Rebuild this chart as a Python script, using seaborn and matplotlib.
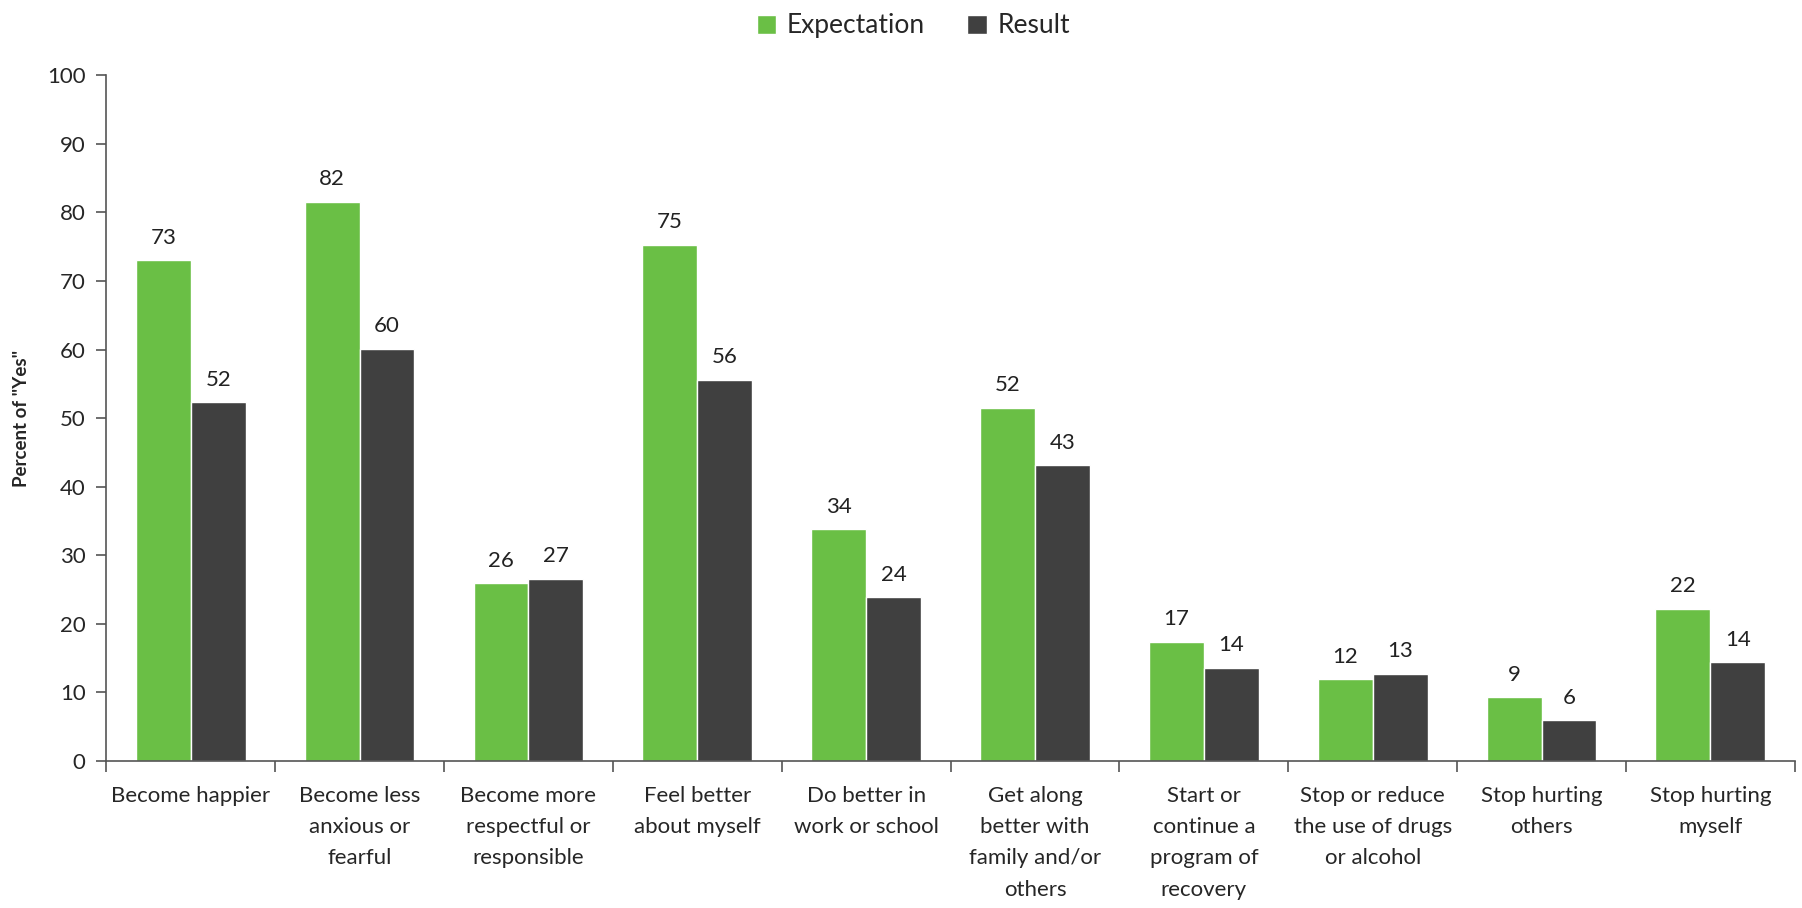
import numpy as np
import pandas as pd
import matplotlib.pyplot as plt
import seaborn as sns

# Data
categories = ["Become happier", "Become less\nanxious or\nfearful", "Become more\nrespectful or\nresponsible",
              "Feel better\nabout myself", "Do better in\nwork or school", "Get along\nbetter with\nfamily and/or\nothers",
              "Start or\ncontinue a\nprogram of\nrecovery", "Stop or reduce\nthe use of drugs\nor alcohol",
              "Stop hurting\nothers", "Stop hurting\nmyself"]
expectation = [73.0, 81.6, 25.9, 75.3, 33.8, 51.5, 17.4, 11.9, 9.3, 22.2]
result = [52.3, 60.1, 26.6, 55.6, 23.9, 43.1, 13.6, 12.7, 5.9, 14.4]

df = pd.DataFrame({
    "category": categories * 2,
    "value": expectation + result,
    "series": ["Expectation"] * len(categories) + ["Result"] * len(categories),
})

sns.set_style("white")
plt.rcParams['font.family'] = ['Lato', 'DejaVu Sans']

fig = plt.figure(figsize=(18.02, 9.08), dpi=100)
ax = fig.add_axes([0.059, 0.162, 0.937, 0.755])

palette = {"Expectation": "#6abf45", "Result": "#404040"}
sns.barplot(data=df, x="category", y="value", hue="series", palette=palette,
            width=0.65, saturation=1, ax=ax, legend=True)

for cont in ax.containers:
    ax.bar_label(cont, fmt="%.0f", padding=9, fontsize=16, color="#222222")

ax.set_ylim(0, 100)
ax.set_xlim(-0.5, len(categories) - 0.5)
ax.set_yticks(np.arange(0, 101, 10))
ax.set_xlabel("")
ax.set_ylabel('Percent of "Yes"', fontsize=13.5, fontweight="bold", labelpad=12)

ax.tick_params(axis="y", labelsize=16, length=7, width=1.2, color="#555555", left=True, pad=8)
ax.tick_params(axis="x", which="major", labelsize=16, length=0, pad=18)
ax.set_xticks(np.arange(-0.5, len(categories)), minor=True)
ax.tick_params(axis="x", which="minor", length=8, width=1.2, color="#555555", bottom=True)
for t in ax.get_xticklabels():
    t.set_verticalalignment("top")
    t.set_linespacing(1.7)

sns.despine(ax=ax)
for s in ["left", "bottom"]:
    ax.spines[s].set_color("#555555")
    ax.spines[s].set_linewidth(1.2)

ax.legend(loc="upper center", bbox_to_anchor=(0.478, 1.125), ncol=2, frameon=False,
          fontsize=19, handlelength=0.75, handleheight=0.75, handletextpad=0.4, columnspacing=1.6)

fig.savefig("out.png", dpi=100)
